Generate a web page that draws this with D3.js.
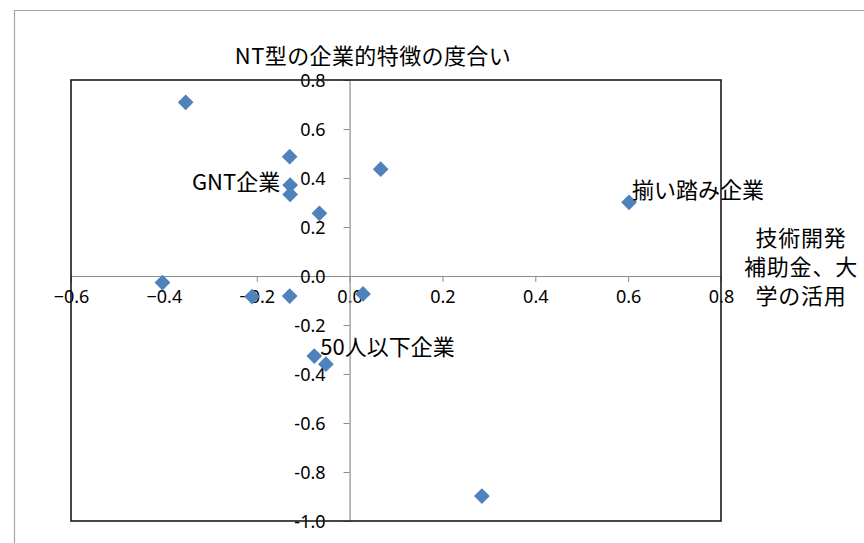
<!DOCTYPE html>
<html>
<head>
<meta charset="utf-8">
<script src="https://cdn.jsdelivr.net/npm/d3@7"></script>
<style>
  html, body { margin: 0; padding: 0; background: #fff; }
  svg { display: block; }
</style>
</head>
<body>
<svg id="chart" width="864" height="543"></svg>
<script>
// Positioning scores of firm groups
const xValues = [-0.353, -0.129, -0.128, -0.128, -0.065, 0.067, 0.602, -0.403, -0.210, -0.129, 0.029, -0.076, -0.051, 0.285];
const yValues = [0.709, 0.487, 0.371, 0.333, 0.256, 0.436, 0.301, -0.027, -0.084, -0.082, -0.073, -0.327, -0.360, -0.898];

// Named points (index into the value arrays) and their labels
const labelPoints = [2, 6, 11];
const labelTexts = ["GNT企業", "揃い踏み企業", "50人以下企業"];

const xTicks = [-0.6, -0.4, -0.2, 0.0, 0.2, 0.4, 0.6, 0.8];
const yTicks = [-1.0, -0.8, -0.6, -0.4, -0.2, 0.0, 0.2, 0.4, 0.6, 0.8];

const yAxisTitle = "NT型の企業的特徴の度合い";
const xAxisTitle = ["技術開発", "補助金、大", "学の活用"];

const svg = d3.select("#chart");
const plot = { left: 71, top: 80, right: 721, bottom: 521 };

const x = d3.scaleLinear().domain([-0.6, 0.8]).range([plot.left, plot.right]);
const y = d3.scaleLinear().domain([-1.0, 0.8]).range([plot.bottom, plot.top]);

const jpFont = "'Noto Sans CJK JP', 'Noto Sans', sans-serif";
const numFont = "'Noto Sans', 'DejaVu Sans', sans-serif";

// Outer chart frame (top and left edges visible)
svg.append("path")
  .attr("d", "M14.5,543 L14.5,10.5 L864,10.5")
  .attr("fill", "none").attr("stroke", "#a6a6a6").attr("stroke-width", 1.2);

// Horizontal axis through y = 0
const xAxis = svg.append("g")
  .attr("transform", `translate(0,${y(0)})`)
  .call(d3.axisBottom(x).tickValues(xTicks).tickSize(6).tickSizeOuter(0)
    .tickFormat(d3.format(".1f")));
xAxis.select(".domain").attr("stroke", "#8c8c8c").attr("stroke-width", 1.2);
xAxis.selectAll(".tick line").attr("stroke", "#8c8c8c").attr("stroke-width", 1);
xAxis.selectAll(".tick text")
  .attr("y", 21).attr("dy", "0.35em")
  .attr("font-family", numFont).attr("font-size", 18).attr("fill", "#000");

// Vertical axis through x = 0
const yAxis = svg.append("g")
  .attr("transform", `translate(${x(0)},0)`)
  .call(d3.axisLeft(y).tickValues(yTicks).tickSize(6).tickSizeOuter(0)
    .tickFormat(d => d3.format(".1f")(d).replace("\u2212", "-")));
yAxis.select(".domain").attr("stroke", "#8c8c8c").attr("stroke-width", 1.2);
yAxis.selectAll(".tick line").attr("stroke", "#8c8c8c").attr("stroke-width", 1);
yAxis.selectAll(".tick text")
  .attr("x", -24).attr("dy", "0.35em")
  .attr("font-family", numFont).attr("font-size", 18).attr("fill", "#000");

// Plot area border
svg.append("rect")
  .attr("x", plot.left).attr("y", plot.top)
  .attr("width", plot.right - plot.left).attr("height", plot.bottom - plot.top)
  .attr("fill", "none").attr("stroke", "#1a1a1a").attr("stroke-width", 1.6);

// Diamond markers
const points = xValues.map((v, i) => ({ x: v, y: yValues[i] }));
svg.append("g").selectAll("path")
  .data(points)
  .join("path")
  .attr("d", d3.symbol(d3.symbolSquare, 124)())
  .attr("transform", d => `translate(${x(d.x)},${y(d.y)}) rotate(45)`)
  .attr("fill", "#4f81bd");

// Point labels
const labelStyle = [
  { dx: -10, dy: -3, anchor: "end" },
  { dx: 3, dy: -12, anchor: "start" },
  { dx: 6, dy: -9, anchor: "start" }
];
svg.append("g").selectAll("text")
  .data(labelPoints)
  .join("text")
  .attr("x", (d, i) => x(xValues[d]) + labelStyle[i].dx)
  .attr("y", (d, i) => y(yValues[d]) + labelStyle[i].dy)
  .attr("dy", "0.35em")
  .attr("text-anchor", (d, i) => labelStyle[i].anchor)
  .attr("font-family", jpFont).attr("font-size", 22).attr("fill", "#000")
  .text((d, i) => labelTexts[i]);

// Axis titles
svg.append("text")
  .attr("x", 373).attr("y", 56).attr("dy", "0.35em")
  .attr("text-anchor", "middle")
  .attr("letter-spacing", 0.4)
  .attr("font-family", jpFont).attr("font-size", 22).attr("fill", "#000")
  .text(yAxisTitle);

svg.append("g").selectAll("text")
  .data(xAxisTitle)
  .join("text")
  .attr("x", 801).attr("y", (d, i) => 238 + i * 29).attr("dy", "0.35em")
  .attr("text-anchor", "middle")
  .attr("letter-spacing", 0.8)
  .attr("font-family", jpFont).attr("font-size", 22).attr("fill", "#000")
  .text(d => d);
</script>
</body>
</html>
